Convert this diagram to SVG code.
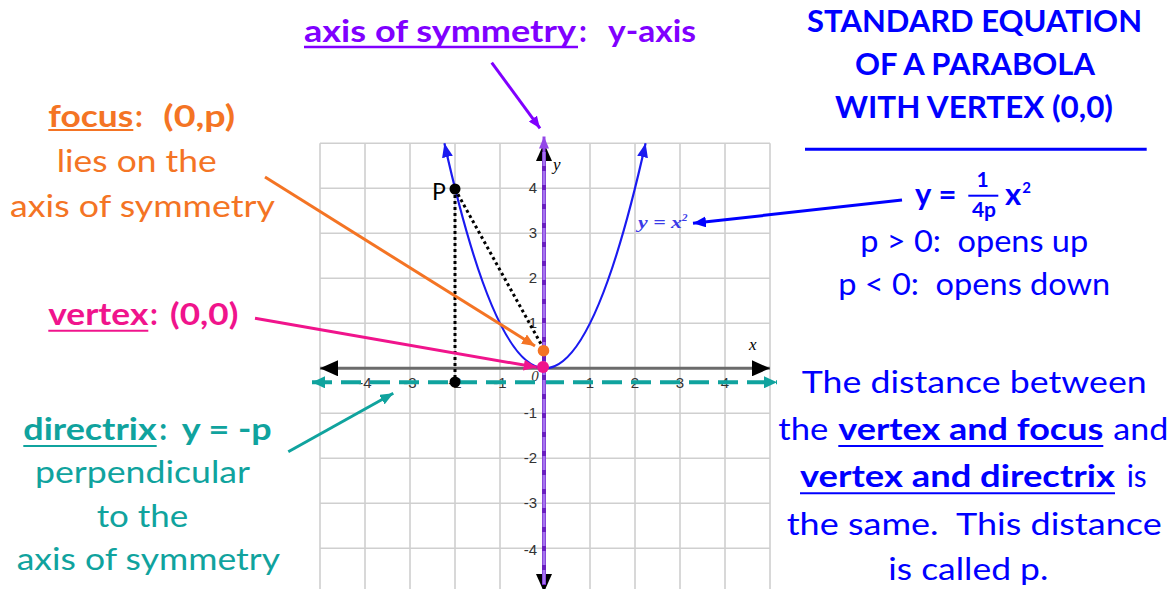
<svg xmlns="http://www.w3.org/2000/svg" width="1174" height="589" viewBox="0 0 1174 589">
<style>
.t{font-family:Lato,"Liberation Sans",sans-serif;font-size:30.5px}
.b{font-weight:bold}
.tick{font-family:"Liberation Sans",Arial,sans-serif;font-size:15px;fill:#333}
.ital{font-family:"Liberation Serif","Times New Roman",serif;font-style:italic}
.grid line{stroke:#cfcfcf;stroke-width:1.6}
.purple{fill:#8000FF}
.orange{fill:#F47424}
.pink{fill:#F0148C}
.teal{fill:#10A39E}
.blue{fill:#0000FF}
.ul{stroke-width:2}
.conn{stroke-width:3;fill:none}
</style>
<defs>
<marker id="ahPurple" viewBox="0 0 12 10" refX="12" refY="5" markerWidth="12" markerHeight="10" markerUnits="userSpaceOnUse" orient="auto"><path d="M0,0 L12,5 L0,10 z" fill="#8000FF"/></marker>
<marker id="ahOrange" viewBox="0 0 13 11" refX="13" refY="5.5" markerWidth="13" markerHeight="11" markerUnits="userSpaceOnUse" orient="auto"><path d="M0,0 L13,5.5 L0,11 z" fill="#F47424"/></marker>
<marker id="ahPink" viewBox="0 0 13 11" refX="13" refY="5.5" markerWidth="13" markerHeight="11" markerUnits="userSpaceOnUse" orient="auto"><path d="M0,0 L13,5.5 L0,11 z" fill="#F0148C"/></marker>
<marker id="ahTeal" viewBox="0 0 13 11" refX="13" refY="5.5" markerWidth="13" markerHeight="11" markerUnits="userSpaceOnUse" orient="auto"><path d="M0,0 L13,5.5 L0,11 z" fill="#10A39E"/></marker>
<marker id="ahBlue" viewBox="0 0 13 11" refX="13" refY="5.5" markerWidth="13" markerHeight="11" markerUnits="userSpaceOnUse" orient="auto"><path d="M0,0 L13,5.5 L0,11 z" fill="#0000FF"/></marker>
<marker id="ahCurve" viewBox="0 0 14 11" refX="14" refY="5.5" markerWidth="14" markerHeight="11" markerUnits="userSpaceOnUse" orient="auto-start-reverse"><path d="M0,0 L14,5.5 L0,11 z" fill="#1A1AF0"/></marker>
<marker id="ahAxis" viewBox="0 0 18 16" refX="18" refY="8" markerWidth="18" markerHeight="16" markerUnits="userSpaceOnUse" orient="auto-start-reverse"><path d="M0,0 L18,8 L0,16 z" fill="#000"/></marker>
<marker id="ahDir" viewBox="0 0 13 12" refX="13" refY="6" markerWidth="13" markerHeight="12" markerUnits="userSpaceOnUse" orient="auto-start-reverse"><path d="M0,0 L13,6 L0,12 z" fill="#10A39E"/></marker>
<marker id="ahAxisP" viewBox="0 0 12 10" refX="12" refY="5" markerWidth="12" markerHeight="10" markerUnits="userSpaceOnUse" orient="auto"><path d="M0,0 L12,5 L0,10 z" fill="#9448E8"/></marker>
</defs>
<rect width="1174" height="589" fill="#fff"/>

<g id="graph">
 <g class="grid">
  <line x1="320" y1="143.3" x2="320" y2="589"/><line x1="365" y1="143.3" x2="365" y2="589"/><line x1="410" y1="143.3" x2="410" y2="589"/><line x1="455" y1="143.3" x2="455" y2="589"/><line x1="500" y1="143.3" x2="500" y2="589"/><line x1="590" y1="143.3" x2="590" y2="589"/><line x1="635" y1="143.3" x2="635" y2="589"/><line x1="680" y1="143.3" x2="680" y2="589"/><line x1="725" y1="143.3" x2="725" y2="589"/><line x1="770" y1="143.3" x2="770" y2="589"/>
  <line x1="320" y1="143.3" x2="770" y2="143.3"/><line x1="320" y1="188.3" x2="770" y2="188.3"/><line x1="320" y1="233.3" x2="770" y2="233.3"/><line x1="320" y1="278.3" x2="770" y2="278.3"/><line x1="320" y1="323.3" x2="770" y2="323.3"/><line x1="320" y1="413.3" x2="770" y2="413.3"/><line x1="320" y1="458.3" x2="770" y2="458.3"/><line x1="320" y1="503.3" x2="770" y2="503.3"/><line x1="320" y1="548.3" x2="770" y2="548.3"/>
 </g>
 <g id="ticks">
  <text class="tick" x="365" y="388" text-anchor="middle">-4</text>
  <text class="tick" x="410" y="388" text-anchor="middle">-3</text>
  <text class="tick" x="455" y="388" text-anchor="middle">-2</text>
  <text class="tick" x="500" y="388" text-anchor="middle">-1</text>
  <text class="tick ital" x="535" y="381" text-anchor="middle">0</text>
  <text class="tick" x="590" y="388" text-anchor="middle">1</text>
  <text class="tick" x="635" y="388" text-anchor="middle">2</text>
  <text class="tick" x="680" y="388" text-anchor="middle">3</text>
  <text class="tick" x="725" y="388" text-anchor="middle">4</text>
  <text class="tick" x="537" y="193" text-anchor="end">4</text>
  <text class="tick" x="537" y="238" text-anchor="end">3</text>
  <text class="tick" x="537" y="283" text-anchor="end">2</text>
  <text class="tick" x="537" y="328" text-anchor="end">1</text>
  <text class="tick" x="537" y="418" text-anchor="end">-1</text>
  <text class="tick" x="537" y="463" text-anchor="end">-2</text>
  <text class="tick" x="537" y="508" text-anchor="end">-3</text>
  <text class="tick" x="537" y="555" text-anchor="end">-4</text>
  <text class="ital" x="553" y="170" style="font-size:17px" fill="#000">y</text>
  <text class="ital" x="749" y="350" style="font-size:17px" fill="#000">x</text>
 </g>
 <line id="x-axis" x1="320" y1="368.3" x2="770" y2="368.3" stroke="#6b6b6b" stroke-width="3" marker-start="url(#ahAxis)" marker-end="url(#ahAxis)"/>
 <line id="y-axis" x1="544" y1="143" x2="544" y2="592" stroke="#333" stroke-width="2.5" marker-start="url(#ahAxis)" marker-end="url(#ahAxis)"/>
 <path id="parabola" d="M444.4 143.3 Q545 593.3 645.6 143.3" fill="none" stroke="#1A1AF0" stroke-width="2.2" marker-start="url(#ahCurve)" marker-end="url(#ahCurve)"/>
 <text id="curve-label" class="ital" x="638" y="228.3" style="font-size:16px;font-weight:bold" fill="#3A3AE8"><tspan textLength="44" lengthAdjust="spacingAndGlyphs">y = x</tspan><tspan style="font-size:11px" dy="-7">2</tspan></text>
</g>

<g id="directrix-line">
 <line x1="312" y1="382.3" x2="777" y2="382.3" stroke="#10A39E" stroke-width="4" stroke-dasharray="20 9" marker-start="url(#ahDir)" marker-end="url(#ahDir)"/>
</g>

<g id="symmetry-axis">
 <line x1="544" y1="152" x2="544" y2="585" stroke="#6A1FC0" stroke-width="4"/>
 <line x1="544" y1="152" x2="544" y2="585" stroke="#A673F0" stroke-width="3" stroke-dasharray="14 5"/>
 <line x1="544" y1="152" x2="544" y2="136.5" stroke="#9448E8" stroke-width="3" marker-end="url(#ahAxisP)"/>
</g>

<g id="point-P">
 <line x1="455" y1="189" x2="455" y2="382" stroke="#000" stroke-width="3" stroke-dasharray="3 3"/>
 <line x1="455" y1="189" x2="541" y2="344" stroke="#000" stroke-width="3" stroke-dasharray="3 3"/>
 <circle cx="455" cy="189" r="5.5" fill="#000"/>
 <circle cx="455" cy="382" r="5.5" fill="#000"/>
 <text x="432" y="200" font-family="Lato,'Liberation Sans',sans-serif" font-size="23" fill="#000">P</text>
</g>

<g id="focus-dot"><circle cx="543.5" cy="350.7" r="5.8" fill="#F47424"/></g>
<g id="vertex-dot"><circle cx="543" cy="367" r="6" fill="#F0148C"/></g>

<g id="connectors">
 <line class="conn" x1="491.7" y1="62.7" x2="540" y2="128.3" stroke="#8000FF" marker-end="url(#ahPurple)"/>
 <line class="conn" x1="265" y1="177" x2="535" y2="346" stroke="#F47424" marker-end="url(#ahOrange)"/>
 <line class="conn" x1="255" y1="318.3" x2="536.7" y2="367.3" stroke="#F0148C" marker-end="url(#ahPink)"/>
 <line class="conn" x1="288.3" y1="451.7" x2="393.3" y2="393.3" stroke="#10A39E" marker-end="url(#ahTeal)"/>
 <line class="conn" x1="902" y1="200" x2="693" y2="223.3" stroke="#0000FF" marker-end="url(#ahBlue)"/>
</g>

<g id="title-axis">
 <text class="t b purple" x="304" y="41.7" textLength="272" lengthAdjust="spacingAndGlyphs">axis of symmetry</text>
 <text class="t b purple" x="579" y="41.7">:</text>
 <text class="t b purple" x="608" y="41.7" textLength="88" lengthAdjust="spacingAndGlyphs">y-axis</text>
 <line x1="304" y1="47" x2="578" y2="47" stroke="#8000FF" stroke-width="2.5"/>
</g>

<g id="standard-equation">
 <text class="t b blue" x="974.5" y="31.7" text-anchor="middle" textLength="335" lengthAdjust="spacingAndGlyphs">STANDARD EQUATION</text>
 <text class="t b blue" x="975" y="75" text-anchor="middle" textLength="240" lengthAdjust="spacingAndGlyphs">OF A PARABOLA</text>
 <text class="t b blue" x="974" y="118.3" text-anchor="middle" textLength="278" lengthAdjust="spacingAndGlyphs">WITH VERTEX (0,0)</text>
 <line x1="805" y1="149.3" x2="1146.7" y2="149.3" stroke="#0000FF" stroke-width="3"/>
 <text class="t b blue" x="915" y="205" style="font-size:31px">y</text>
 <text class="t b blue" x="947.5" y="205" style="font-size:31px" text-anchor="middle">=</text>
 <text class="t b blue" style="font-size:21px" text-anchor="middle"><tspan x="982.5" y="187">1</tspan><tspan x="984" y="217">4p</tspan></text>
 <line x1="968.3" y1="195.7" x2="998.3" y2="195.7" stroke="#0000FF" stroke-width="2"/>
 <text class="t b blue" x="1005" y="205" style="font-size:31px">x<tspan style="font-size:15px" dx="1" dy="-12">2</tspan></text>
 <text class="t blue" x="974.2" y="252.3" text-anchor="middle" textLength="228" lengthAdjust="spacingAndGlyphs" xml:space="preserve">p &gt; 0:  opens up</text>
 <text class="t blue" x="974.2" y="295" text-anchor="middle" textLength="272" lengthAdjust="spacingAndGlyphs" xml:space="preserve">p &lt; 0:  opens down</text>
</g>

<g id="focus-label">
 <text class="t b orange" x="48.3" y="126.7" textLength="85" lengthAdjust="spacingAndGlyphs">focus</text>
 <text class="t b orange" x="135" y="126.7">:</text>
 <text class="t b orange" x="163.3" y="126.7" textLength="71.7" lengthAdjust="spacingAndGlyphs">(0,p)</text>
 <line class="ul" x1="48.3" y1="130" x2="133.3" y2="130" stroke="#F47424"/>
 <text class="t orange" x="56.7" y="171.7" textLength="160" lengthAdjust="spacingAndGlyphs">lies on the</text>
 <text class="t orange" x="10" y="216.7" textLength="265" lengthAdjust="spacingAndGlyphs">axis of symmetry</text>
</g>

<g id="vertex-label">
 <text class="t b pink" x="48.3" y="325" textLength="100" lengthAdjust="spacingAndGlyphs">vertex</text>
 <text class="t b pink" x="150" y="325">:</text>
 <text class="t b pink" x="170" y="325" textLength="68.3" lengthAdjust="spacingAndGlyphs">(0,0)</text>
 <line class="ul" x1="48.3" y1="330.7" x2="148.3" y2="330.7" stroke="#F0148C"/>
</g>

<g id="directrix-label">
 <text class="t b teal" x="23.3" y="440" textLength="133.4" lengthAdjust="spacingAndGlyphs">directrix</text>
 <text class="t b teal" x="159.3" y="440">:</text>
 <text class="t b teal" x="181.7" y="440" textLength="90" lengthAdjust="spacingAndGlyphs">y = -p</text>
 <line class="ul" x1="23.3" y1="446" x2="156.7" y2="446" stroke="#10A39E"/>
 <text class="t teal" x="35" y="483.3" textLength="215" lengthAdjust="spacingAndGlyphs">perpendicular</text>
 <text class="t teal" x="96.7" y="526.7" textLength="91.6" lengthAdjust="spacingAndGlyphs">to the</text>
 <text class="t teal" x="16.7" y="570" textLength="263.3" lengthAdjust="spacingAndGlyphs">axis of symmetry</text>
</g>

<g id="distance-note">
 <text class="t blue" x="801.7" y="393.3" textLength="345" lengthAdjust="spacingAndGlyphs">The distance between</text>
 <text class="t blue" x="778.3" y="440" textLength="50" lengthAdjust="spacingAndGlyphs">the</text>
 <text class="t b blue" x="838.3" y="440" textLength="265" lengthAdjust="spacingAndGlyphs">vertex and focus</text>
 <text class="t blue" x="1113.3" y="440" textLength="55" lengthAdjust="spacingAndGlyphs">and</text>
 <line class="ul" x1="838.3" y1="446" x2="1103.3" y2="446" stroke="#0000FF"/>
 <text class="t b blue" x="800" y="486.7" textLength="315" lengthAdjust="spacingAndGlyphs">vertex and directrix</text>
 <text class="t blue" x="1126.7" y="486.7" textLength="20" lengthAdjust="spacingAndGlyphs">is</text>
 <line class="ul" x1="800" y1="493.3" x2="1115" y2="493.3" stroke="#0000FF"/>
 <text class="t blue" x="786.7" y="535" textLength="375" lengthAdjust="spacingAndGlyphs" xml:space="preserve">the same.  This distance</text>
 <text class="t blue" x="888.3" y="580" textLength="160" lengthAdjust="spacingAndGlyphs">is called p.</text>
</g>
</svg>
